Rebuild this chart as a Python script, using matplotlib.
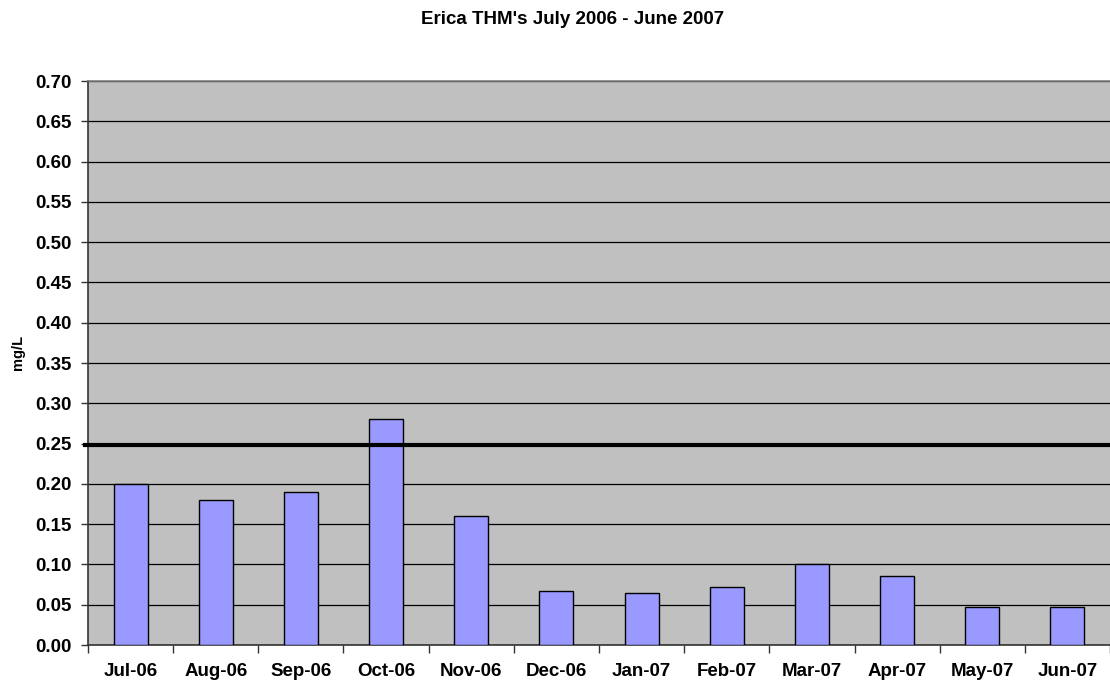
import matplotlib
matplotlib.use("Agg")
import matplotlib.pyplot as plt
import numpy as np

months = ["Jul-06", "Aug-06", "Sep-06", "Oct-06", "Nov-06", "Dec-06",
          "Jan-07", "Feb-07", "Mar-07", "Apr-07", "May-07", "Jun-07"]
thm_mg_per_l = [0.20, 0.18, 0.19, 0.28, 0.16, 0.067,
                0.064, 0.072, 0.10, 0.086, 0.047, 0.047]
mcl_limit = 0.248
y_ticks = [0.00, 0.05, 0.10, 0.15, 0.20, 0.25, 0.30, 0.35,
           0.40, 0.45, 0.50, 0.55, 0.60, 0.65, 0.70]

plt.rcParams["font.family"] = ["Liberation Sans", "DejaVu Sans"]

fig = plt.figure(figsize=(11.1, 6.86), dpi=100)
ax = fig.add_axes([88 / 1110, 41 / 686, 1 - 88 / 1110, 564 / 686])
ax.set_facecolor("#c0c0c0")

x = np.arange(len(months))
ax.bar(x, thm_mg_per_l, width=0.4, color="#9999ff", edgecolor="black",
       linewidth=1.0, zorder=3)
ax.axhline(mcl_limit, xmin=-0.003, color="black", linewidth=3, zorder=4,
           clip_on=False)

ax.set_xlim(-0.5, len(months) - 0.5)
ax.set_ylim(0, 0.70)
ax.set_yticks(y_ticks)
ax.set_yticklabels([f"{v:.2f}" for v in y_ticks], fontsize=13.5, fontweight="bold")
ax.yaxis.grid(True, color="black", linewidth=0.9, zorder=1)
ax.set_axisbelow(True)

ax.set_xticks(np.arange(len(months) + 1) - 0.5, minor=False)
ax.set_xticklabels([])
ax.set_xticks(x, minor=True)
ax.set_xticklabels(months, minor=True, fontsize=13.5, fontweight="bold")
ax.tick_params(axis="x", which="major", length=6, color="#333333", width=1)
ax.tick_params(axis="x", which="minor", length=0, pad=13)
ax.tick_params(axis="y", length=5, color="#333333", width=1, pad=7)

for side in ["left", "bottom"]:
    ax.spines[side].set_color("#333333")
    ax.spines[side].set_linewidth(1.2)
ax.spines["top"].set_color("#808080")
ax.spines["top"].set_linewidth(1.2)
ax.spines["right"].set_visible(False)

ax.set_ylabel("mg/L", fontsize=10.5, fontweight="bold")
ax.yaxis.set_label_coords(-63 / 1022, (645 - 352) / 564)

fig.text(573 / 1110, 1 - 20 / 686, "Erica THM's July 2006 - June 2007",
         fontsize=13.5, fontweight="bold", ha="center", va="center")

fig.savefig("out.png", dpi=100, facecolor="white")
